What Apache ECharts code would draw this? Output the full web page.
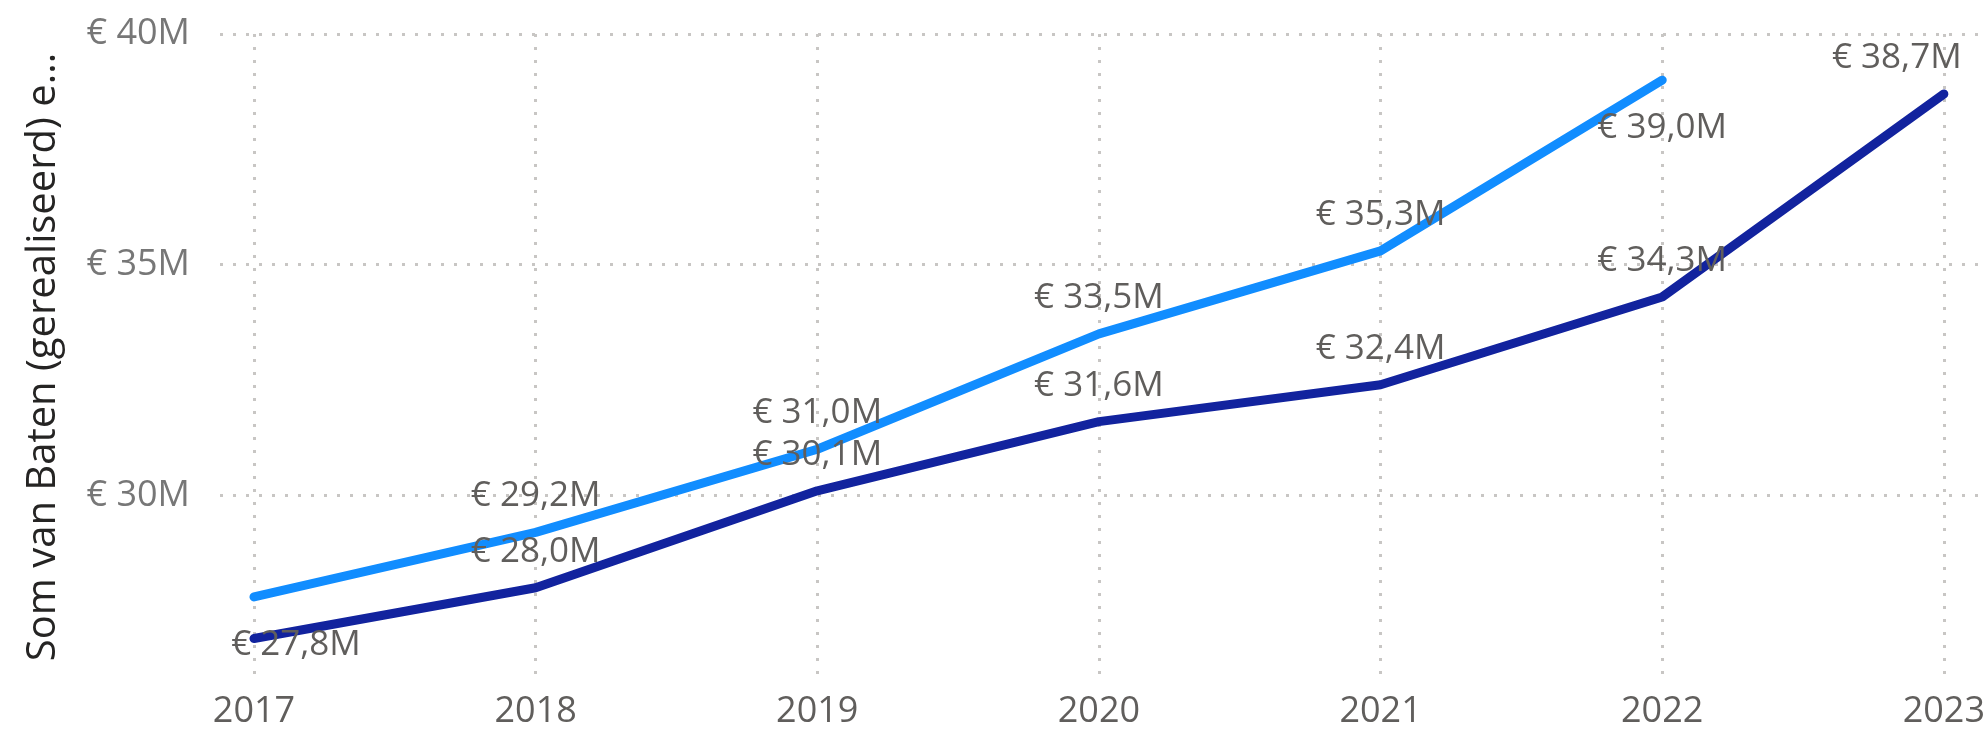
<!DOCTYPE html>
<html>
<head>
<meta charset="utf-8">
<title>Som van Baten</title>
<script src="https://cdn.jsdelivr.net/npm/echarts@6/dist/echarts.min.js"></script>
<style>
  html, body { margin: 0; padding: 0; background: #fff; }
  #chart { width: 1988px; height: 733px; }
</style>
</head>
<body>
<div id="chart"></div>
<script>
// jaren op de x-as
const years = ['2017', '2018', '2019', '2020', '2021', '2022', '2023']
// lichtblauwe lijn (loopt t/m 2022)
const batenLicht = [27.8, 29.2, 31.0, 33.5, 35.3, 39.0, null]
// donkerblauwe lijn
const batenDonker = [26.9, 28.0, 30.1, 31.6, 32.4, 34.3, 38.7]
// y-as ticks (in miljoenen)
const yTicks = [30, 35, 40]

const FONT = "'Segoe UI', 'Open Sans', sans-serif"
const fmt = v => '€ ' + v.toFixed(1).replace('.', ',') + 'M'

// afwijkende label-plaatsing per punt (zoals in Power BI)
const labelTweaks = {
  licht: {
    0: { position: 'bottom', distance: 30, offset: [42, 0] },
    5: { position: 'bottom', distance: 30 }
  },
  donker: {
    0: { show: false },
    6: { offset: [-47, 0] }
  }
}

function toData(values, key) {
  return values.map((v, i) => {
    if (v === null) return null
    const tweak = labelTweaks[key][i]
    return tweak ? { value: v, label: tweak } : v
  })
}

const dotted = { color: '#C8C6C4', width: 3, type: [3, 10] }

const chart = echarts.init(document.getElementById('chart'))

const option = {
  backgroundColor: '#fff',
  animation: false,
  grid: [
    // alleen voor de horizontale rasterlijnen + y-labels
    { left: 220, right: 8, top: 34, bottom: 7 },
    // de eigenlijke lijnen
    { left: 254, right: 42, top: 34, bottom: 53 }
  ],
  xAxis: [
    { type: 'value', gridIndex: 0, min: 0, max: 1, show: false },
    {
      type: 'category',
      gridIndex: 1,
      data: years,
      boundaryGap: false,
      axisLine: { show: false },
      axisTick: { show: false },
      axisLabel: { color: '#605E5C', fontSize: 36, fontFamily: FONT, margin: 14 },
      splitLine: { show: true, lineStyle: dotted }
    }
  ],
  yAxis: [
    {
      type: 'value',
      gridIndex: 0,
      min: 25,
      max: yTicks[yTicks.length - 1],
      interval: yTicks[1] - yTicks[0],
      axisLine: { show: false },
      axisTick: { show: false },
      axisLabel: {
        showMinLabel: false,
        color: '#777',
        fontSize: 36,
        fontFamily: FONT,
        margin: 30,
        formatter: v => '€ ' + v + 'M'
      },
      splitLine: { show: true, showMinLine: false, lineStyle: dotted }
    },
    {
      type: 'value',
      gridIndex: 1,
      min: 26,
      max: 40,
      axisLine: { show: false },
      axisTick: { show: false },
      axisLabel: { show: false },
      splitLine: { show: false },
      name: 'Som van Baten (gerealiseerd) e...',
      nameLocation: 'middle',
      nameRotate: 90,
      nameGap: 190,
      nameTextStyle: { color: '#252423', fontSize: 40, fontFamily: FONT }
    }
  ],
  series: [
    {
      name: 'Baten',
      type: 'line',
      xAxisIndex: 1,
      yAxisIndex: 1,
      data: toData(batenLicht, 'licht'),
      symbol: 'circle',
      symbolSize: 1,
      lineStyle: { width: 9, color: '#118DFF', cap: 'round', join: 'round' },
      itemStyle: { color: '#118DFF' },
      label: {
        show: true,
        position: 'top',
        distance: 18,
        color: '#605E5C',
        fontSize: 35,
        fontFamily: FONT,
        formatter: p => fmt(p.value)
      }
    },
    {
      name: 'Baten (gerealiseerd)',
      type: 'line',
      xAxisIndex: 1,
      yAxisIndex: 1,
      data: toData(batenDonker, 'donker'),
      symbol: 'circle',
      symbolSize: 1,
      lineStyle: { width: 9, color: '#12239E', cap: 'round', join: 'round' },
      itemStyle: { color: '#12239E' },
      label: {
        show: true,
        position: 'top',
        distance: 18,
        color: '#605E5C',
        fontSize: 35,
        fontFamily: FONT,
        formatter: p => fmt(p.value)
      }
    }
  ]
}

chart.setOption(option)
window.addEventListener('resize', () => {
  chart.resize()
})
</script>
</body>
</html>
